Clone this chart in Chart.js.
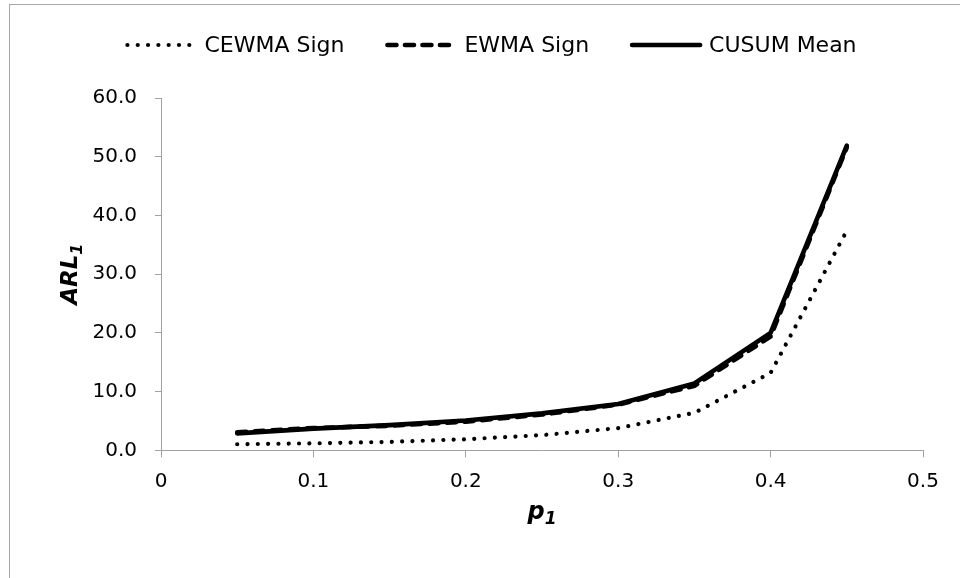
<!DOCTYPE html>
<html>
<head>
<meta charset="utf-8">
<script src="https://cdn.jsdelivr.net/npm/chart.js@4"></script>
<style>
  html, body { margin: 0; padding: 0; background: #fff; overflow: hidden; }
  #wrap { position: relative; width: 960px; height: 578px; }
  #frame { position: absolute; left: 9px; top: 4px; width: 1000px; height: 700px; border: 1px solid #a6a6a6; }
  canvas { position: absolute; left: 0; top: 0; }
</style>
</head>
<body>
<div id="wrap">
  <div id="frame"></div>
  <canvas id="arlChart" width="960" height="578"></canvas>
</div>
<script>
// p1 values and ARL1 per chart type
const p1 = [0.05, 0.1, 0.15, 0.2, 0.25, 0.3, 0.35, 0.4, 0.45];
const cewmaSign = [1.05, 1.2, 1.45, 1.9, 2.6, 3.8, 6.4, 13.2, 37.4];
const ewmaSign  = [3.1, 3.8, 4.2, 4.9, 6.1, 7.8, 11.0, 19.4, 51.6];
const cusumMean = [2.9, 3.7, 4.3, 5.1, 6.3, 7.9, 11.4, 20.0, 51.9];

const xTickLabels = ['0', '0.1', '0.2', '0.3', '0.4', '0.5'];
const yTickLabels = ['0.0', '10.0', '20.0', '30.0', '40.0', '50.0', '60.0'];

const FONT = '"DejaVu Sans", sans-serif';
const AXIS_GREY = '#a0a0a0';

const toPoints = (ys) => p1.map((x, i) => ({ x: x, y: ys[i] }));

// legend drawn across the top, Excel style (line sample + text)
const topLegend = {
  id: 'topLegend',
  afterDraw(chart) {
    const ctx = chart.ctx;
    const lineLen = 68, textGap = 9, itemGap = 43, y = 45, centre = 492;
    ctx.save();
    ctx.font = '22px ' + FONT;
    const items = chart.data.datasets.map(ds => ({ ds: ds, w: ctx.measureText(ds.label).width }));
    const total = items.reduce((s, it) => s + lineLen + textGap + it.w, 0) + itemGap * (items.length - 1);
    let x = centre - total / 2;
    items.forEach(it => {
      const ds = it.ds;
      ctx.beginPath();
      ctx.strokeStyle = ds.borderColor;
      ctx.lineWidth = ds.borderWidth;
      ctx.lineCap = ds.borderCapStyle || 'butt';
      ctx.setLineDash(ds.borderDash || []);
      ctx.moveTo(x, y);
      ctx.lineTo(x + lineLen, y);
      ctx.stroke();
      ctx.setLineDash([]);
      ctx.fillStyle = '#000';
      ctx.textAlign = 'left';
      ctx.textBaseline = 'middle';
      ctx.fillText(ds.label, x + lineLen + textGap, y + 1);
      x += lineLen + textGap + it.w + itemGap;
    });
    ctx.restore();
  }
};

// axis titles with a real subscript "1"
function drawSubTitle(ctx, main, sub, size) {
  ctx.font = 'italic bold ' + size + 'px ' + FONT;
  const wMain = ctx.measureText(main).width;
  ctx.font = 'italic bold ' + Math.round(size * 0.7) + 'px ' + FONT;
  const wSub = ctx.measureText(sub).width;
  const start = -(wMain + wSub) / 2;
  ctx.textBaseline = 'alphabetic';
  ctx.textAlign = 'left';
  ctx.fillStyle = '#000';
  ctx.font = 'italic bold ' + size + 'px ' + FONT;
  ctx.fillText(main, start, size * 0.36);
  ctx.font = 'italic bold ' + Math.round(size * 0.7) + 'px ' + FONT;
  ctx.fillText(sub, start + wMain, size * 0.36 + size * 0.22);
}

const axisTitles = {
  id: 'axisTitles',
  afterDraw(chart) {
    const ctx = chart.ctx;
    const area = chart.chartArea;
    ctx.save();
    ctx.translate((area.left + area.right) / 2, 510);
    drawSubTitle(ctx, 'p', '1', 24);
    ctx.restore();
    ctx.save();
    ctx.translate(69, (area.top + area.bottom) / 2);
    ctx.rotate(-Math.PI / 2);
    drawSubTitle(ctx, 'ARL', '1', 23);
    ctx.restore();
  }
};

new Chart(document.getElementById('arlChart'), {
  type: 'scatter',
  data: {
    datasets: [
      {
        label: 'CEWMA Sign',
        data: toPoints(cewmaSign),
        showLine: true,
        borderColor: '#000',
        borderWidth: 4.2,
        borderDash: [0.01, 10.3],
        borderCapStyle: 'round',
        pointRadius: 0,
        order: 2
      },
      {
        label: 'EWMA Sign',
        data: toPoints(ewmaSign),
        showLine: true,
        borderColor: '#000',
        borderWidth: 4.6,
        borderDash: [9, 8.5],
        borderCapStyle: 'round',
        pointRadius: 0,
        order: 1
      },
      {
        label: 'CUSUM Mean',
        data: toPoints(cusumMean),
        showLine: true,
        borderColor: '#000',
        borderWidth: 4.6,
        borderCapStyle: 'round',
        borderJoinStyle: 'round',
        pointRadius: 0,
        order: 0
      }
    ]
  },
  options: {
    responsive: false,
    animation: false,
    devicePixelRatio: 1,
    layout: { padding: { top: 98, right: 37, bottom: 0, left: 0 } },
    plugins: {
      legend: { display: false },
      tooltip: { enabled: false }
    },
    scales: {
      x: {
        type: 'linear',
        min: 0,
        max: 0.5,
        afterFit: (scale) => { scale.height = 127.6; },
        ticks: {
          stepSize: 0.1,
          color: '#000',
          font: { family: FONT, size: 20 },
          padding: 12,
          maxRotation: 0,
          callback: (v, i) => xTickLabels[i]
        },
        grid: { drawOnChartArea: false, drawTicks: true, tickLength: 7, color: AXIS_GREY },
        border: { color: AXIS_GREY, width: 1 },
        title: { display: false }
      },
      y: {
        min: 0,
        max: 60,
        afterFit: (scale) => { scale.width = 161; },
        ticks: {
          stepSize: 10,
          color: '#000',
          font: { family: FONT, size: 20 },
          padding: 18,
          callback: (v, i) => yTickLabels[i]
        },
        grid: { drawOnChartArea: false, drawTicks: true, tickLength: 6, color: AXIS_GREY },
        border: { color: AXIS_GREY, width: 1 },
        title: { display: false }
      }
    }
  },
  plugins: [topLegend, axisTitles]
});
</script>
</body>
</html>
